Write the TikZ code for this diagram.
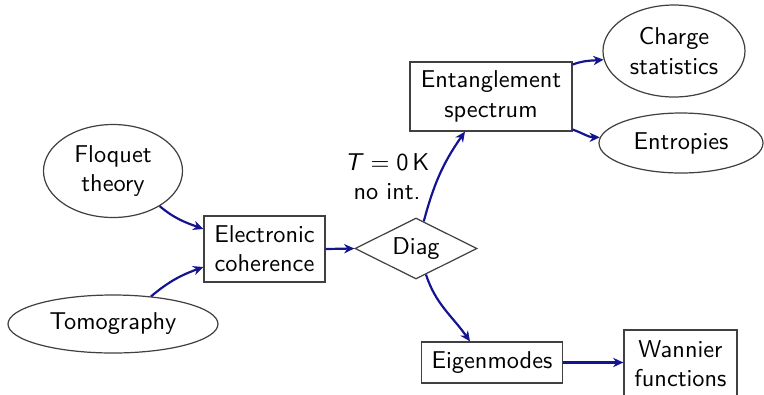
\documentclass[tikz,border=0pt]{standalone}
\usetikzlibrary{shapes.geometric,arrows.meta}
\renewcommand{\familydefault}{\sfdefault}
\definecolor{flowblue}{RGB}{20,20,145}
\newcommand{\pxu}{0.411pt}
\begin{document}
\begin{tikzpicture}[x=0.411pt,y=0.411pt,
  shapeline/.style={draw=black!75, line width=0.5pt, align=center, inner sep=0pt},
  box/.style={shapeline, rectangle},
  oval/.style={shapeline, ellipse},
  decision/.style={shapeline, diamond, aspect=2},
  arr/.style={draw=flowblue, line width=0.9pt, -{Stealth[length=4.2pt,width=3.8pt,inset=1.3pt]}}]
\useasboundingbox (0,0) rectangle (764,-394);

% inputs
\node[oval, minimum width=139*\pxu, minimum height=93*\pxu] (fl) at (113,-171) {Floquet\\theory};
\node[oval, minimum width=210*\pxu, minimum height=58*\pxu] (tm) at (113,-324) {Tomography};
\node[box, minimum width=121*\pxu, minimum height=66*\pxu] (ec) at (264.5,-249) {Electronic\\coherence};
\node[decision, minimum width=122*\pxu, minimum height=61*\pxu] (dg) at (416,-248.5) {Diag};
\node[align=center] (cond) at (387,-177) {\textit{T}${}={}$0\,K\\no int.};

% outputs
\node[box, minimum width=162*\pxu, minimum height=69*\pxu] (en) at (491,-96.5) {Entanglement\\spectrum};
\node[oval, minimum width=142*\pxu, minimum height=92*\pxu] (ch) at (674,-51) {Charge\\statistics};
\node[oval, minimum width=164*\pxu, minimum height=60*\pxu] (ep) at (681,-143) {Entropies};
\node[box, minimum width=141*\pxu, minimum height=41*\pxu] (em) at (492,-362.5) {Eigenmodes};
\node[box, minimum width=113*\pxu, minimum height=68*\pxu] (wn) at (680.5,-364) {Wannier\\functions};

% connectors
\draw[arr] (fl.-37) to[out=-40,in=160] ([yshift=20*\pxu]ec.west);
\draw[arr] (tm.36) to[out=40,in=200] ([yshift=-18*\pxu]ec.west);
\draw[arr] (ec.east) -- (dg.west);
\draw[arr] (dg.74) to[out=75,in=235] ([xshift=-26*\pxu]en.south);
\draw[arr] (dg.-69) to[out=-72,in=125] ([xshift=-22*\pxu]em.north);
\draw[arr] ([yshift=32*\pxu]en.east) to[out=20,in=185] (ch.187);
\draw[arr] ([yshift=-33*\pxu]en.east) to[out=-20,in=180] (ep.176);
\draw[arr] (em.east) -- (em.east -| wn.west);
\end{tikzpicture}
\end{document}
